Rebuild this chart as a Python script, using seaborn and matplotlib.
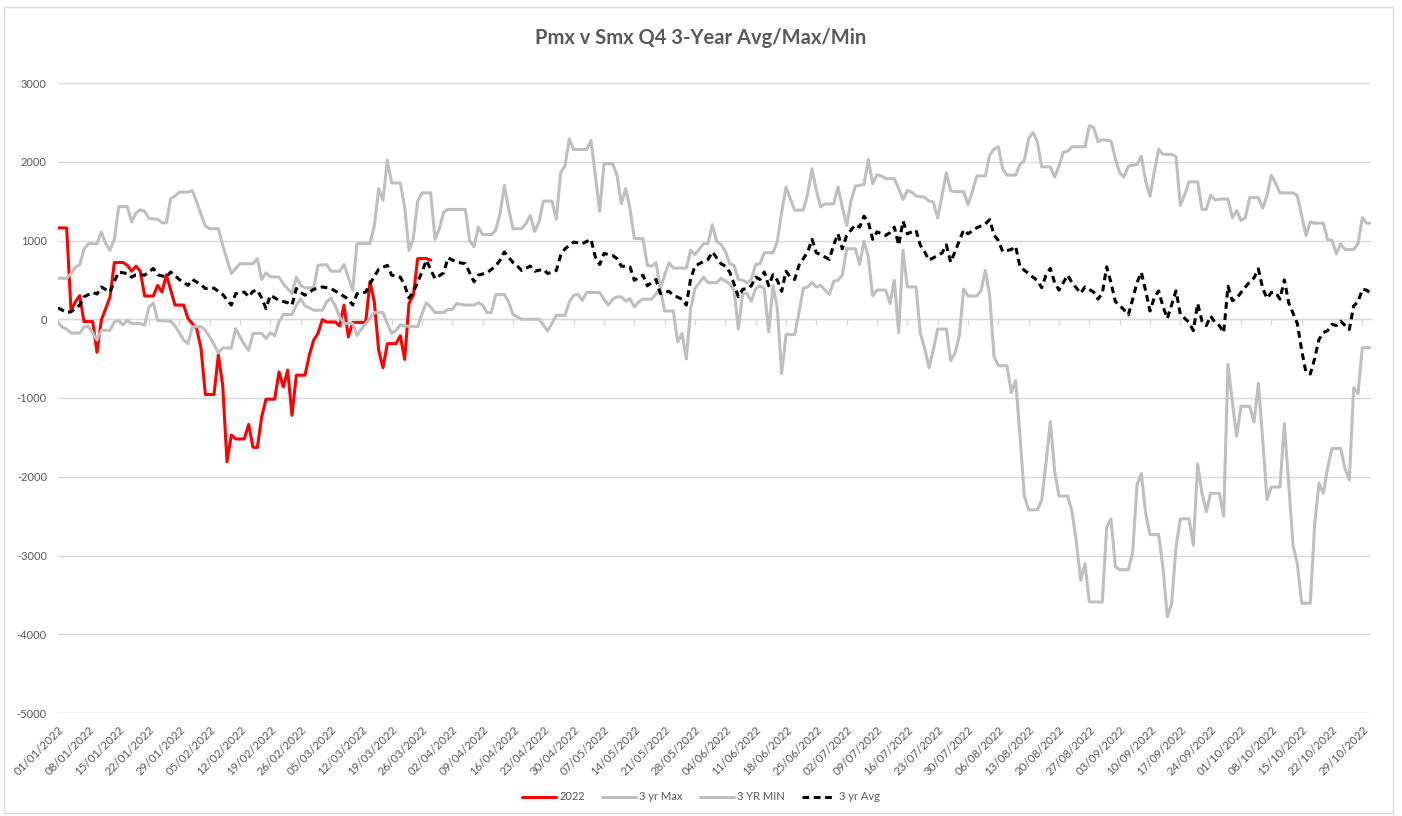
import numpy as np
import pandas as pd
import matplotlib
matplotlib.use("Agg")
import matplotlib.pyplot as plt
import matplotlib.dates as mdates
from matplotlib.patches import Rectangle
import seaborn as sns

# ---------------- data (day offsets from 01/01/2022) ----------------
START = "2022-01-01"
series_names = ["2022", "3 yr Max", "3 YR MIN", "3 yr Avg"]

actual_day = [0, 2, 3, 4, 5, 6, 8, 9, 10, 12, 13, 15, 16, 17, 18, 19, 20, 22, 23, 24, 25, 27, 29, 30,
              32, 33, 34, 36, 37, 38, 39, 40, 41, 43, 44, 45, 46, 47, 48, 50, 51, 52, 53, 54, 55, 57,
              58, 59, 60, 61, 62, 64, 65, 66, 67, 68, 71, 72, 73, 74, 75, 76, 78, 79, 80, 81, 82, 83,
              85, 86]
actual_val = [1160, 1160, 110, 220, 300, -30, -30, -420, -10, 280, 720, 720, 685, 610, 675, 610, 295,
              295, 430, 345, 565, 180, 180, 10, -120, -370, -955, -955, -455, -835, -1810, -1470,
              -1520, -1520, -1335, -1625, -1630, -1240, -1015, -1015, -670, -860, -645, -1220, -710,
              -710, -455, -265, -180, -5, -35, -35, -85, 180, -225, -40, -40, 480, 220, -395, -615,
              -310, -310, -210, -510, 200, 305, 770, 770, 750]

max_day = [0, 2, 3, 4, 5, 6, 7, 9, 10, 11, 12, 13, 14, 16, 17, 18, 19, 20, 21, 23, 24, 25, 26, 27,
           28, 30, 31, 32, 33, 34, 35, 37, 38, 40, 41, 42, 45, 46, 47, 48, 49, 51, 52, 54, 55, 56,
           57, 59, 60, 62, 63, 65, 66, 68, 69, 72, 73, 74, 75, 76, 77, 79, 80, 81, 82, 83, 84, 86,
           87, 88, 89, 90, 94, 95, 96, 97, 98, 100, 101, 102, 103, 104, 105, 107, 108, 109, 110,
           111, 112, 114, 115, 116, 117, 118, 119, 122, 123, 124, 125, 126, 128, 129, 130, 131,
           132, 133, 135, 136, 137, 138, 139, 140, 141, 142, 145, 146, 147, 149, 150, 151, 152,
           153, 154, 155, 156, 157, 158, 159, 160, 161, 162, 163, 165, 166, 167, 168, 169, 170,
           172, 173, 174, 175, 176, 177, 179, 180, 181, 182, 183, 184, 186, 187, 188, 189, 190,
           191, 193, 194, 195, 196, 197, 198, 200, 201, 202, 203, 204, 205, 206, 207, 209, 210,
           211, 212, 214, 215, 216, 217, 218, 219, 221, 222, 223, 224, 225, 226, 227, 229, 230,
           231, 232, 233, 234, 237, 238, 239, 240, 241, 243, 244, 245, 246, 247, 249, 250, 251,
           252, 253, 254, 255, 257, 258, 259, 260, 261, 263, 264, 265, 266, 267, 268, 270, 271,
           272, 273, 274, 275, 277, 278, 279, 280, 281, 282, 285, 286, 287, 288, 289, 290, 292,
           293, 294, 295, 296, 297, 299, 300, 301, 302, 303]
max_val = [520, 520, 580, 660, 690, 890, 960, 960, 1110, 960, 875, 1015, 1430, 1430, 1235, 1350,
           1390, 1370, 1280, 1270, 1225, 1225, 1530, 1565, 1615, 1615, 1635, 1490, 1330, 1185,
           1150, 1150, 940, 580, 645, 705, 705, 770, 505, 590, 540, 535, 450, 325, 535, 430, 400,
           400, 685, 695, 610, 610, 695, 370, 960, 960, 1190, 1660, 1510, 2020, 1730, 1730, 1425,
           875, 1030, 1500, 1605, 1605, 1015, 1150, 1360, 1395, 1395, 1000, 920, 1170, 1075,
           1075, 1130, 1340, 1700, 1400, 1150, 1150, 1215, 1320, 1115, 1235, 1500, 1500, 1270,
           1860, 1950, 2290, 2155, 2155, 2270, 1830, 1370, 1975, 1975, 1830, 1465, 1660, 1405,
           1025, 1025, 685, 675, 720, 390, 560, 720, 650, 650, 875, 820, 960, 960, 1200, 990, 950,
           865, 705, 685, 505, 495, 465, 505, 695, 705, 845, 845, 990, 1360, 1680, 1530, 1385,
           1385, 1595, 1910, 1635, 1425, 1465, 1465, 1680, 1425, 1190, 1500, 1690, 1710, 2030,
           1720, 1835, 1820, 1785, 1785, 1660, 1520, 1635, 1615, 1565, 1550, 1500, 1490, 1285,
           1570, 1860, 1630, 1620, 1620, 1455, 1620, 1820, 1820, 2085, 2160, 2190, 1910, 1830,
           1830, 1965, 2015, 2295, 2370, 2255, 1935, 1935, 1805, 1945, 2120, 2135, 2190, 2190,
           2455, 2435, 2255, 2280, 2265, 2040, 1860, 1805, 1945, 1965, 2070, 1755, 1560, 1875,
           2160, 2095, 2095, 2065, 1445, 1580, 1745, 1745, 1395, 1395, 1580, 1515, 1525, 1525,
           1290, 1380, 1255, 1290, 1545, 1545, 1410, 1570, 1830, 1725, 1605, 1605, 1570, 1315,
           1065, 1235, 1220, 1220, 1010, 1000, 830, 960, 885, 885, 960, 1290, 1220, 1220]

min_day = [0, 1, 2, 3, 5, 6, 7, 8, 9, 10, 12, 13, 14, 15, 16, 17, 19, 20, 21, 22, 23, 26, 27, 28,
           29, 30, 31, 33, 34, 35, 36, 37, 38, 40, 41, 42, 43, 44, 45, 47, 48, 49, 50, 51, 52, 54,
           55, 56, 57, 58, 59, 61, 62, 63, 64, 65, 66, 68, 69, 70, 72, 73, 75, 76, 77, 78, 79, 80,
           83, 84, 85, 86, 87, 89, 90, 91, 92, 94, 96, 97, 98, 99, 100, 101, 103, 104, 105, 107,
           111, 113, 115, 117, 118, 119, 120, 121, 122, 125, 126, 127, 128, 129, 130, 131, 132,
           133, 134, 135, 137, 139, 140, 142, 143, 144, 145, 146, 147, 149, 150, 152, 153, 155,
           156, 157, 158, 159, 160, 161, 162, 163, 164, 165, 166, 167, 168, 170, 171, 172, 173,
           174, 175, 176, 177, 178, 179, 180, 181, 182, 184, 185, 186, 187, 188, 189, 191, 192,
           193, 194, 195, 196, 198, 199, 200, 201, 202, 203, 205, 206, 207, 208, 209, 210, 212,
           213, 214, 215, 216, 217, 219, 220, 221, 222, 223, 224, 226, 227, 228, 229, 230, 231,
           233, 234, 235, 236, 237, 238, 241, 242, 243, 244, 245, 247, 248, 249, 250, 251, 252,
           254, 255, 256, 257, 258, 259, 261, 262, 263, 264, 265, 266, 268, 269, 270, 271, 272,
           273, 275, 276, 277, 278, 279, 280, 282, 283, 284, 285, 286, 287, 289, 290, 291, 292,
           293, 294, 296, 297, 298, 299, 300, 301, 303]
min_val = [-40, -100, -125, -175, -175, -100, -90, -170, -265, -140, -140, -35, -15, -70, -15, -55,
           -55, -75, 155, 205, -15, -25, -85, -170, -265, -310, -95, -95, -140, -225, -320, -425,
           -365, -365, -120, -225, -320, -395, -180, -180, -245, -170, -210, -30, 60, 60, 180,
           260, 170, 145, 115, 115, 220, 270, 170, 30, -55, -55, -205, -125, 10, 85, 85, -55,
           -180, -140, -70, -85, -95, 70, 210, 155, 85, 85, 125, 125, 200, 180, 180, 210, 180, 85,
           85, 310, 315, 220, 60, 0, 0, -150, 50, 50, 220, 305, 315, 240, 340, 340, 255, 180, 255,
           285, 285, 230, 260, 155, 220, 255, 255, 390, 105, 105, -290, -180, -505, 135, 390, 535,
           465, 465, 520, 450, 370, -125, 325, 325, 230, 390, 425, 390, -160, 425, 135, -690,
           -195, -195, 85, 395, 410, 465, 410, 430, 370, 315, 480, 495, 560, 895, 895, 695, 990,
           790, 295, 370, 370, 200, 495, -170, 875, 410, 410, -180, -370, -615, -390, -125, -125,
           -525, -430, -210, 385, 295, 295, 360, 620, 305, -475, -590, -590, -930, -775, -1485,
           -2245, -2420, -2420, -2300, -1825, -1300, -1930, -2245, -2245, -2440, -2825, -3315,
           -3105, -3590, -3590, -2640, -2535, -3140, -3180, -3180, -2960, -2105, -1960, -2460,
           -2735, -2735, -3160, -3780, -3605, -2895, -2535, -2535, -2870, -1840, -2210, -2445,
           -2210, -2210, -2500, -570, -1055, -1485, -1105, -1105, -1305, -815, -1525, -2290,
           -2130, -2130, -1325, -2080, -2870, -3105, -3605, -3605, -2605, -2080, -2210, -1885,
           -1640, -1640, -1895, -2040, -870, -945, -360, -360]

avg_day = [0, 2, 3, 5, 6, 8, 9, 10, 12, 13, 14, 16, 17, 18, 20, 22, 23, 25, 26, 28, 30, 31, 33, 34,
           36, 38, 40, 41, 43, 44, 45, 46, 47, 48, 49, 51, 53, 54, 55, 56, 57, 59, 61, 63, 65, 67,
           68, 69, 71, 72, 74, 76, 77, 79, 80, 81, 82, 84, 85, 87, 89, 90, 92, 94, 96, 97, 99, 101,
           102, 103, 105, 106, 107, 109, 110, 112, 113, 115, 116, 117, 119, 121, 123, 124, 125,
           126, 128, 129, 130, 132, 133, 135, 136, 138, 139, 141, 142, 144, 145, 146, 147, 149,
           150, 151, 153, 154, 155, 156, 157, 158, 159, 160, 161, 162, 163, 164, 165, 166, 167,
           168, 169, 170, 171, 173, 174, 175, 176, 178, 179, 180, 181, 182, 184, 185, 186, 187,
           188, 189, 191, 192, 193, 194, 195, 196, 197, 198, 199, 200, 201, 202, 204, 205, 206,
           207, 209, 210, 212, 214, 215, 216, 217, 218, 220, 221, 222, 224, 226, 227, 228, 229,
           230, 231, 232, 233, 234, 236, 237, 239, 240, 241, 242, 243, 244, 245, 246, 247, 248,
           249, 250, 251, 252, 253, 254, 255, 256, 257, 258, 259, 261, 262, 263, 264, 265, 266,
           267, 268, 269, 270, 271, 272, 273, 275, 276, 277, 278, 279, 280, 281, 282, 283, 284,
           286, 287, 288, 289, 290, 291, 292, 293, 294, 295, 296, 298, 299, 300, 301, 302, 303]
avg_val = [145, 85, 95, 180, 285, 340, 320, 410, 345, 480, 600, 580, 535, 565, 560, 645, 565, 535,
           600, 505, 430, 505, 440, 390, 395, 315, 180, 325, 345, 285, 355, 370, 270, 135, 305,
           240, 210, 180, 390, 340, 305, 380, 410, 390, 325, 255, 180, 325, 345, 450, 635, 685,
           560, 535, 430, 270, 345, 600, 750, 515, 590, 780, 725, 705, 475, 560, 590, 675, 750,
           855, 720, 675, 620, 675, 610, 635, 580, 620, 810, 895, 980, 960, 1015, 790, 695, 835,
           810, 770, 675, 665, 495, 560, 425, 505, 325, 355, 305, 255, 180, 515, 675, 735, 760,
           855, 705, 675, 600, 450, 285, 380, 390, 425, 535, 505, 600, 425, 565, 495, 355, 610,
           535, 505, 685, 855, 1015, 845, 820, 760, 945, 1085, 895, 1065, 1200, 1170, 1310, 1235,
           1015, 1110, 1065, 1100, 1170, 940, 1245, 1085, 1110, 1130, 940, 855, 750, 780, 840,
           945, 725, 860, 1135, 1085, 1160, 1210, 1265, 1070, 1000, 860, 885, 925, 665, 580, 490,
           400, 560, 645, 465, 370, 465, 560, 465, 330, 410, 345, 255, 330, 665, 465, 225, 175,
           120, 55, 255, 465, 595, 360, 105, 280, 360, 160, 10, 185, 360, 65, -40, -145, 200, -25,
           -80, 40, -40, -80, -170, 420, 235, 265, 340, 475, 525, 640, 395, 265, 340, 340, 255,
           500, 210, -55, -395, -675, -695, -500, -255, -170, -145, -65, -80, -25, -130, 170, 220,
           380, 370, 325]

# ---------------- styling ----------------
TEXT = "#595959"
GRID = "#d9d9d9"
GREY = "#bfbfbf"

sns.set_theme(style="white")
plt.rcParams["font.family"] = ["Lato", "DejaVu Sans"]

W, H = 1402, 816
fig = plt.figure(figsize=(W / 100, H / 100), dpi=100)
fig.patch.set_facecolor("white")
L, R, T, B = 58, 1371, 83, 713
ax = fig.add_axes([L / W, 1 - B / H, (R - L) / W, (B - T) / H])


def to_dates(days):
    return pd.Timestamp(START) + pd.to_timedelta(np.asarray(days), unit="D")


frames = []
for name, d, v in zip(series_names,
                      [actual_day, max_day, min_day, avg_day],
                      [actual_val, max_val, min_val, avg_val]):
    frames.append(pd.DataFrame({"date": to_dates(d), "value": v, "series": name}))
df = pd.concat(frames, ignore_index=True)

line_styles = {
    "2022": dict(color="#ff0000", lw=2.2, ls="-"),
    "3 yr Max": dict(color=GREY, lw=2.2, ls="-"),
    "3 YR MIN": dict(color=GREY, lw=2.2, ls="-"),
    "3 yr Avg": dict(color="black", lw=2.2, ls=(0, (2.2, 1.5))),
}
for name in series_names:
    sub = df[df["series"] == name]
    st = line_styles[name]
    sns.lineplot(data=sub, x="date", y="value", ax=ax, color=st["color"],
                 linewidth=st["lw"], linestyle=st["ls"], label=name,
                 estimator=None, sort=False, zorder=3)

# axes
ax.set_ylim(-5000, 3000)
ax.set_xlim(pd.Timestamp(START), pd.Timestamp("2022-10-31"))
ax.set_yticks(range(-5000, 3001, 1000))
ax.yaxis.set_major_formatter(matplotlib.ticker.FuncFormatter(lambda v, p: f"{int(v)}"))
xt = pd.date_range(START, "2022-10-29", freq="7D")
ax.set_xticks(xt)
ax.xaxis.set_major_formatter(mdates.DateFormatter("%d/%m/%Y"))
ax.tick_params(axis="y", length=0, pad=8, labelsize=8, labelcolor=TEXT)
ax.tick_params(axis="x", length=0, pad=8, labelsize=8.3, labelcolor=TEXT)
for lab in ax.get_xticklabels():
    lab.set_rotation(45)
    lab.set_ha("right")
    lab.set_rotation_mode("anchor")
ax.grid(axis="y", color=GRID, lw=1)
ax.grid(axis="x", visible=False)
for s in ax.spines.values():
    s.set_visible(False)
ax.set_xlabel("")
ax.set_ylabel("")

# horizontal axis line at zero with small tick marks
sec = ax.secondary_xaxis(0, transform=ax.transData)
sec.set_xticks(xt)
sec.set_xticklabels([])
sec.tick_params(axis="x", length=4, width=1, color=GRID, direction="out")
sec.spines["bottom"].set_color(GRID)
sec.spines["bottom"].set_linewidth(1)

# legend
handles, labels = ax.get_legend_handles_labels()
ax.get_legend().remove()
fig.legend(handles, labels, loc="center", bbox_to_anchor=(0.5, 1 - 797 / H), ncol=4,
           frameon=False, fontsize=8, labelcolor=TEXT, handlelength=3.1,
           handletextpad=0.3, columnspacing=1.5)

# title
fig.text(0.5, 1 - 38 / H, "Pmx v Smx Q4 3-Year Avg/Max/Min", ha="center", va="center",
         fontsize=14.5, fontweight="bold", color=TEXT)

# chart border
fig.add_artist(Rectangle((4 / W, 1 - 813 / H), (1393 - 4) / W, (813 - 7) / H,
                         transform=fig.transFigure, fill=False, edgecolor=GRID, lw=1))

fig.savefig("out.png", dpi=100)
